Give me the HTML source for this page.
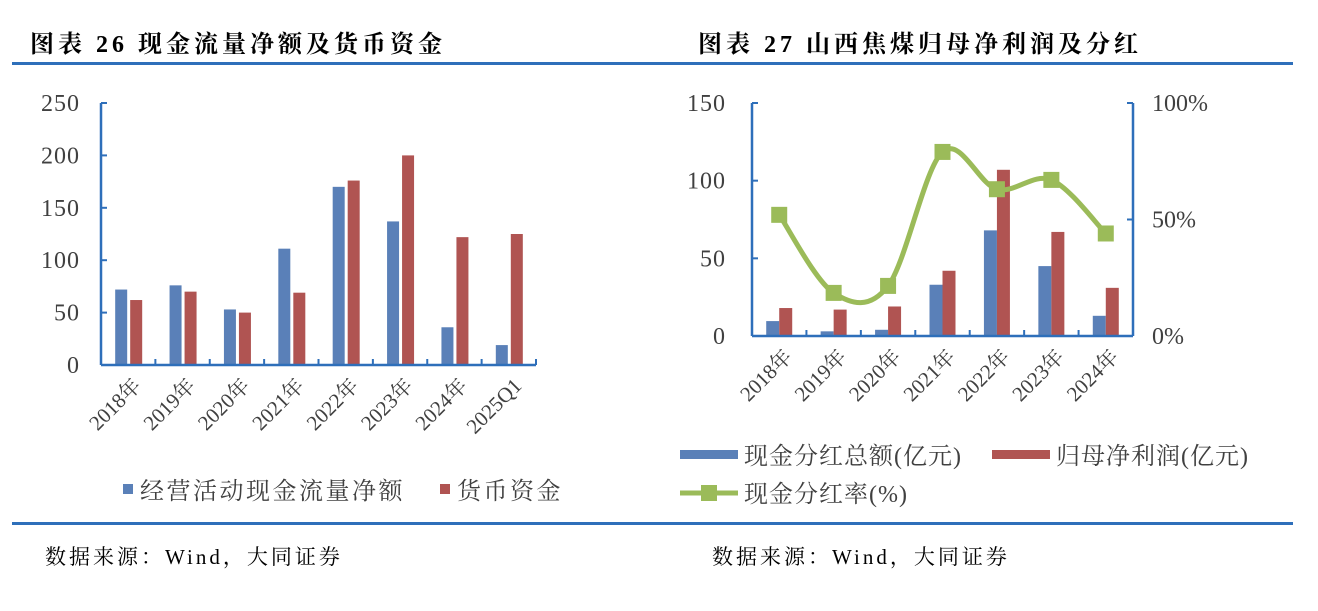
<!DOCTYPE html>
<html><head><meta charset="utf-8"><style>
body{margin:0;width:1318px;height:606px;background:#fff;overflow:hidden;font-family:"Liberation Serif","Noto Serif CJK SC",serif}
svg text{fill:#404040}
</style></head><body>
<svg id="s" width="1318" height="606" xmlns="http://www.w3.org/2000/svg">
<text x="30" y="52" font-size="24" font-weight="bold" letter-spacing="4" style="fill:#000;font-family:'Liberation Serif','Noto Serif CJK SC',serif">图表 26 现金流量净额及货币资金</text>
<text x="698" y="52" font-size="24" font-weight="bold" letter-spacing="4" style="fill:#000;font-family:'Liberation Serif','Noto Serif CJK SC',serif">图表 27 山西焦煤归母净利润及分红</text>
<rect x="12" y="62" width="1281" height="3" fill="#2e6fba"/>
<rect x="12" y="522" width="1281" height="3" fill="#2e6fba"/>
<text x="45" y="564" font-size="21" letter-spacing="3" style="fill:#000;font-family:'Liberation Serif','Noto Serif CJK SC',serif">数据来源：Wind，大同证券</text>
<text x="712" y="564" font-size="21" letter-spacing="3" style="fill:#000;font-family:'Liberation Serif','Noto Serif CJK SC',serif">数据来源：Wind，大同证券</text>
<g id="L"></g><g id="R"></g>
</svg>
<script>
const lCats=["2018年","2019年","2020年","2021年","2022年","2023年","2024年","2025Q1"];
const lCash=[72,76,53,111,170,137,36,19];
const lMoney=[62,70,50,69,176,200,122,125];
const lTicks=[0,50,100,150,200,250];
const rCats=["2018年","2019年","2020年","2021年","2022年","2023年","2024年"];
const rDiv=[9.6,3,4,33,68,45,13];
const rProfit=[18,17,19,42,107,67,31];
const rRate=[52,18.5,21.5,79,63,67,44];
const rTicks=[0,50,100,150];
const rRTicks=["0%","50%","100%"];
const NS="http://www.w3.org/2000/svg";
const BLUE="#5a80b8",RED="#b05452",GREEN="#9bbb59",AX="#2e6fba";
const sf="font-family:'Liberation Serif','Noto Serif CJK SC',serif";
function mk(p,t,a,txt){const e=document.createElementNS(NS,t);for(const k in a)e.setAttribute(k,a[k]);if(txt!=null)e.textContent=txt;p.appendChild(e);return e;}
const L=document.getElementById('L'),R=document.getElementById('R');
const lx0=101,lx1=536,ly0=365,ly1=103,lmax=250;
const lY=v=>ly0-(v/lmax)*(ly0-ly1);
const lW=(lx1-lx0)/lCats.length;
const lX=i=>lx0+lW*(i+0.5);
lTicks.forEach(t=>{
 let e=mk(L,'text',{x:80,y:lY(t)+8,'font-size':24,'text-anchor':'end','letter-spacing':1},t);
 
 mk(L,'line',{x1:lx0,x2:lx0+6,y1:lY(t),y2:lY(t),stroke:AX,'stroke-width':2});
});
lCats.forEach((c,i)=>{
 let b=mk(L,'rect',{x:lX(i)-13,y:lY(lCash[i]),width:12,height:ly0-lY(lCash[i]),fill:BLUE});
 
 let r=mk(L,'rect',{x:lX(i)+2,y:lY(lMoney[i]),width:12,height:ly0-lY(lMoney[i]),fill:RED});
 
 mk(L,'line',{x1:lx0+lW*(i+1),x2:lx0+lW*(i+1),y1:ly0,y2:ly0-6,stroke:AX,'stroke-width':2});
 let t=mk(L,'text',{x:0,y:0,'font-size':21,'text-anchor':'end',transform:`translate(${lX(i)+14},${ly0+22}) rotate(-45)`},c);
 
});
mk(L,'line',{x1:lx0,x2:lx0,y1:ly1,y2:ly0,stroke:AX,'stroke-width':2.5});
mk(L,'line',{x1:lx0,x2:lx1,y1:ly0,y2:ly0,stroke:AX,'stroke-width':2.5});
let g=mk(L,'g',{});
mk(g,'rect',{x:123,y:484,width:10,height:10,fill:BLUE});
mk(g,'text',{x:140,y:499,'font-size':24,'letter-spacing':2.5,style:sf},'经营活动现金流量净额');
mk(g,'rect',{x:440,y:484,width:10,height:10,fill:RED});
mk(g,'text',{x:457,y:499,'font-size':24,'letter-spacing':2.5,style:sf},'货币资金');
const rx0=752,rx1=1133,ry0=336,ry1=103;
const rY=v=>ry0-(v/150)*(ry0-ry1);
const rY2=v=>ry0-(v/100)*(ry0-ry1);
const rW=(rx1-rx0)/rCats.length;
const rX=i=>rx0+rW*(i+0.5);
rTicks.forEach(t=>{
 let e=mk(R,'text',{x:726,y:rY(t)+8,'font-size':24,'text-anchor':'end','letter-spacing':1},t);
 
 mk(R,'line',{x1:rx0,x2:rx0+6,y1:rY(t),y2:rY(t),stroke:AX,'stroke-width':2});
});
rRTicks.forEach((t,i)=>{
 const y=rY2(i*50);
 let e=mk(R,'text',{x:1152,y:y+8,'font-size':24},t);
 
 mk(R,'line',{x1:rx1-6,x2:rx1,y1:y,y2:y,stroke:AX,'stroke-width':2});
});
rCats.forEach((c,i)=>{
 let b=mk(R,'rect',{x:rX(i)-13,y:rY(rDiv[i]),width:13,height:ry0-rY(rDiv[i]),fill:BLUE});
 
 let r=mk(R,'rect',{x:rX(i),y:rY(rProfit[i]),width:13,height:ry0-rY(rProfit[i]),fill:RED});
 
 if(i<rCats.length-1)mk(R,'line',{x1:rx0+rW*(i+1),x2:rx0+rW*(i+1),y1:ry0,y2:ry0-6,stroke:AX,'stroke-width':2});
 let t=mk(R,'text',{x:0,y:0,'font-size':21,'text-anchor':'end',transform:`translate(${rX(i)+14},${ry0+22}) rotate(-45)`},c);
 
});
mk(R,'line',{x1:rx0,x2:rx0,y1:ry1,y2:ry0,stroke:AX,'stroke-width':2.5});
mk(R,'line',{x1:rx1,x2:rx1,y1:ry1,y2:ry0,stroke:AX,'stroke-width':2.5});
mk(R,'line',{x1:rx0,x2:rx1,y1:ry0,y2:ry0,stroke:AX,'stroke-width':2.5});
const pts=rRate.map((v,i)=>[rX(i),rY2(v)]);
let d=`M${pts[0][0]},${pts[0][1]}`;
for(let i=0;i<pts.length-1;i++){
 const p0=pts[Math.max(0,i-1)],p1=pts[i],p2=pts[i+1],p3=pts[Math.min(pts.length-1,i+2)];
 const c1=[p1[0]+(p2[0]-p0[0])/6,p1[1]+(p2[1]-p0[1])/6],c2=[p2[0]-(p3[0]-p1[0])/6,p2[1]-(p3[1]-p1[1])/6];
 d+=` C${c1[0]},${c1[1]} ${c2[0]},${c2[1]} ${p2[0]},${p2[1]}`;
}
let ln=mk(R,'path',{d:d,fill:'none',stroke:GREEN,'stroke-width':5});

pts.forEach(p=>{let m=mk(R,'rect',{x:p[0]-8,y:p[1]-8,width:16,height:16,fill:GREEN});
 });
let g2=mk(R,'g',{});
mk(g2,'rect',{x:680,y:450,width:58,height:9,fill:BLUE});
mk(g2,'text',{x:744,y:464,'font-size':24,'letter-spacing':1,style:sf},'现金分红总额(亿元)');
mk(g2,'rect',{x:992,y:450,width:58,height:9,fill:RED});
mk(g2,'text',{x:1056,y:464,'font-size':24,'letter-spacing':1,style:sf},'归母净利润(亿元)');
mk(g2,'line',{x1:680,x2:738,y1:493,y2:493,stroke:GREEN,'stroke-width':5});
mk(g2,'rect',{x:701,y:485,width:16,height:16,fill:GREEN});
mk(g2,'text',{x:744,y:502,'font-size':24,'letter-spacing':1,style:sf},'现金分红率(%)');
</script>
</body></html>
